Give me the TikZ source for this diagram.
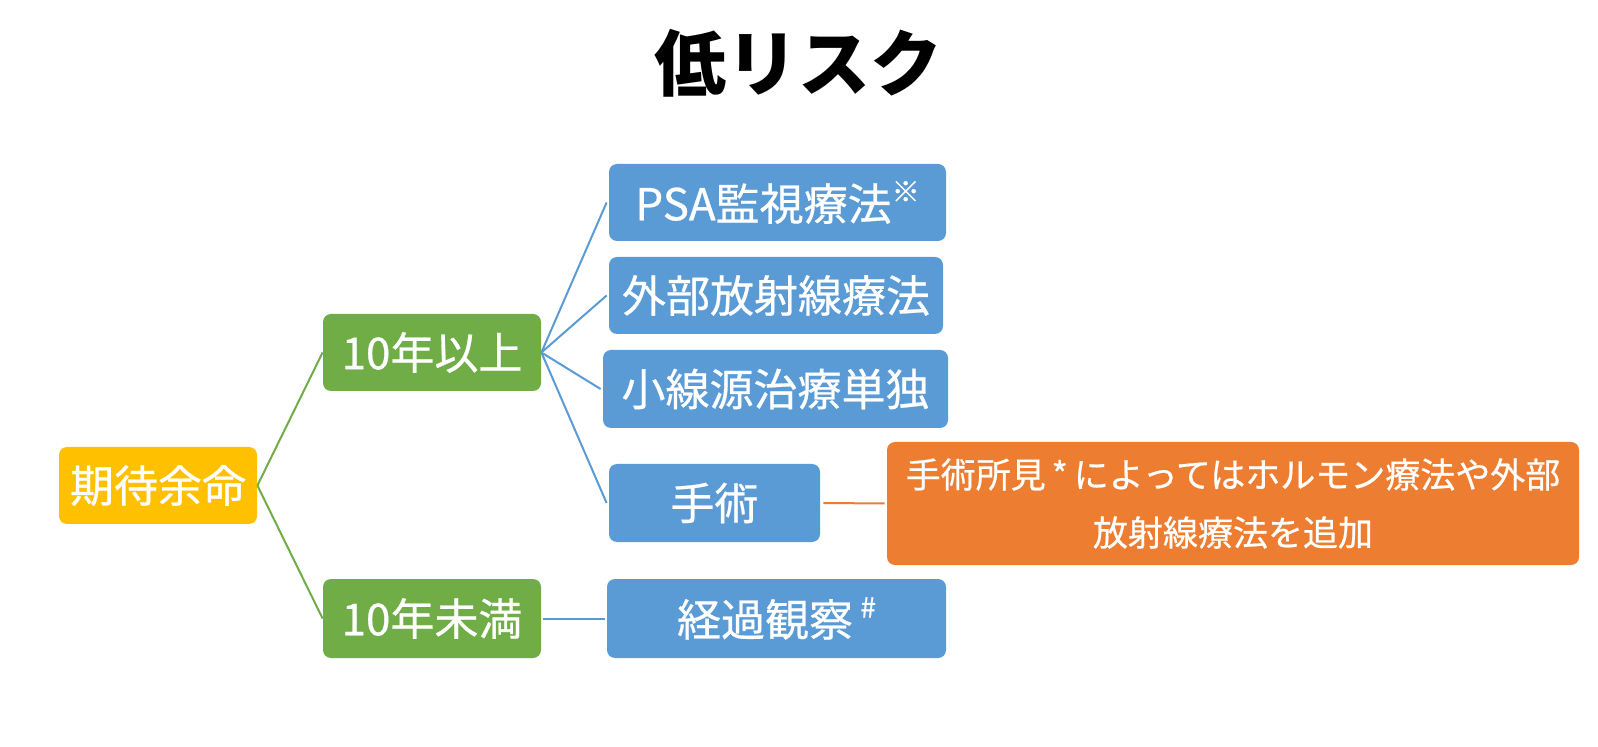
\documentclass[tikz,border=0pt]{standalone}
\usepackage{fontspec}
\newfontfamily\jp[FakeBold=0.6]{Noto Sans CJK JP}
\newfontfamily\jpt{Noto Sans CJK JP}
\definecolor{cyellow}{HTML}{FFC000}
\definecolor{cgreen}{HTML}{70AD47}
\definecolor{cblue}{HTML}{5B9BD5}
\definecolor{corange}{HTML}{ED7D31}
\tikzset{
  bx/.style={rounded corners=4pt, inner sep=0pt, text=white, align=center,
    font=\jp\fontsize{22}{26}\selectfont},
  greenline/.style={draw=cgreen, line width=1pt},
  blueline/.style={draw=cblue, line width=1pt},
  orangeline/.style={draw=corange, line width=1pt},
}
\newcommand{\supmark}[1]{\raisebox{0.42em}{\fontsize{14}{14}\selectfont #1}}
\begin{document}
\begin{tikzpicture}[x=0.5pt,y=-0.5pt]
\useasboundingbox (0,0) rectangle (1598,747);
\node[font=\jpt\bfseries\fontsize{36}{40}\selectfont, inner sep=0pt] (title) at (798,63) {低リスク};
\node[bx, fill=cyellow, minimum width=99pt, minimum height=38.5pt] (root) at (158,485.5) {期待余命};
\node[bx, fill=cgreen, minimum width=109pt, minimum height=38.5pt] (a) at (432,352.5) {10年以上};
\node[bx, fill=cgreen, minimum width=109pt, minimum height=39.5pt] (b) at (432,618.5) {10年未満};
\node[bx, fill=cblue, minimum width=168.5pt, minimum height=38.5pt] (psa) at (777.5,202.5) {PSA監視療法\supmark{※}};
\node[bx, fill=cblue, minimum width=167pt, minimum height=38.5pt] (ext) at (776,295.5) {外部放射線療法};
\node[bx, fill=cblue, minimum width=172.5pt, minimum height=39pt] (brachy) at (775.5,389) {小線源治療単独};
\node[bx, fill=cblue, minimum width=105.5pt, minimum height=39pt] (surg) at (714.5,503) {手術};
\node[bx, fill=cblue, minimum width=169.5pt, minimum height=39.5pt] (obs) at (776.5,618.5) {経過観察\,\supmark{\#}};
\node[bx, fill=corange, minimum width=346pt, minimum height=61.5pt,
  font=\jp\fontsize{17.5}{29}\selectfont] (note) at (1233,503.5)
  {手術所見\,*\,によってはホルモン療法や外部\\放射線療法を追加};
\draw[greenline] (root.east) -- (a.west);
\draw[greenline] (root.east) -- (b.west);
\draw[blueline] (a.east) -- ([xshift=-1pt]psa.west);
\draw[blueline] (a.east) -- ([xshift=-1pt]ext.west);
\draw[blueline] (a.east) -- ([xshift=-1pt]brachy.west);
\draw[blueline] (a.east) -- ([xshift=-1pt]surg.west);
\draw[blueline] ([xshift=1pt]b.east) -- ([xshift=-1pt]obs.west);
\draw[orangeline] ([xshift=1.5pt]surg.east) -- ([xshift=-1pt]note.west);
\end{tikzpicture}
\end{document}
